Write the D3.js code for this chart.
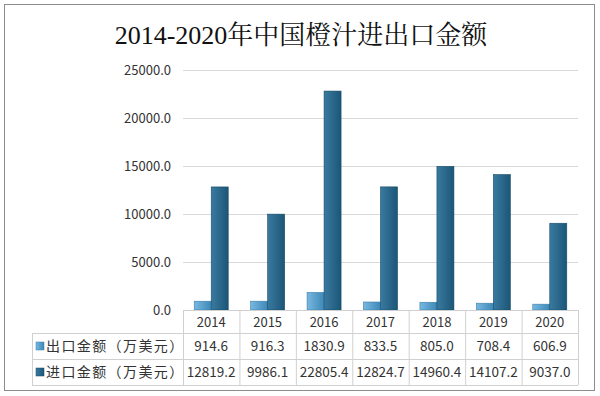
<!DOCTYPE html>
<html>
<head>
<meta charset="utf-8">
<script src="https://cdn.jsdelivr.net/npm/d3@7"></script>
<style>
  html, body { margin: 0; padding: 0; background: #fff; }
  svg { display: block; }
</style>
</head>
<body>
<div id="chart"></div>
<script>
const years = ['2014', '2015', '2016', '2017', '2018', '2019', '2020'];
const exportValues = [914.6, 916.3, 1830.9, 833.5, 805.0, 708.4, 606.9];
const importValues = [12819.2, 9986.1, 22805.4, 12824.7, 14960.4, 14107.2, 9037.0];
const seriesNames = ['出口金额（万美元）', '进口金额（万美元）'];
const yTicks = [0, 5000, 10000, 15000, 20000, 25000];
const title = '2014-2020年中国橙汁进出口金额';

const width = 600, height = 396;
const plot = { left: 183, right: 578, top: 70, bottom: 310 };
const rowH = [23, 26, 26];
const labelColLeft = 32;
const sansFont = '"Noto Sans CJK SC", "Noto Sans", sans-serif';

const svg = d3.select('#chart').append('svg')
  .attr('width', width)
  .attr('height', height);

// gradients for bars
const defs = svg.append('defs');
function gradient(id, c1, c2) {
  const g = defs.append('linearGradient').attr('id', id)
    .attr('x1', 0).attr('y1', 0).attr('x2', 1).attr('y2', 0);
  g.append('stop').attr('offset', '0%').attr('stop-color', c1);
  g.append('stop').attr('offset', '100%').attr('stop-color', c2);
}
gradient('gExport', '#78b8e0', '#3d88b8');
gradient('gImport', '#3a7aa0', '#1b5677');

// outer frame
svg.append('rect')
  .attr('x', 4.5).attr('y', 4.5)
  .attr('width', 590).attr('height', 386)
  .attr('fill', '#fff')
  .attr('stroke', '#8c8c8c')
  .attr('stroke-width', 1);

// title
svg.append('text')
  .attr('x', 301).attr('y', 44)
  .attr('text-anchor', 'middle')
  .attr('font-family', '"Liberation Serif", "Noto Serif CJK SC", "Noto Sans CJK SC", serif')
  .attr('font-size', 26)
  .attr('fill', '#111')
  .text(title);

const x = d3.scaleBand()
  .domain(years)
  .range([plot.left, plot.right]);

const y = d3.scaleLinear()
  .domain([0, 25000])
  .range([plot.bottom, plot.top]);

// gridlines
svg.append('g')
  .selectAll('line')
  .data(yTicks.slice(1))
  .join('line')
  .attr('x1', plot.left).attr('x2', plot.right)
  .attr('y1', d => y(d) + 0.5).attr('y2', d => y(d) + 0.5)
  .attr('stroke', '#d9d9d9');

// y axis labels
svg.append('g')
  .selectAll('text')
  .data(yTicks)
  .join('text')
  .attr('x', 171)
  .attr('y', d => y(d) + 5)
  .attr('text-anchor', 'end')
  .attr('font-family', sansFont)
  .attr('font-size', 13)
  .attr('fill', '#333')
  .text(d => d3.format('.1f')(d));

// bars
const barW = 17;
const bars = svg.append('g');
bars.selectAll('rect.exp')
  .data(exportValues)
  .join('rect')
  .attr('class', 'exp')
  .attr('x', (d, i) => x(years[i]) + x.bandwidth() / 2 - barW)
  .attr('y', d => y(d))
  .attr('width', barW)
  .attr('height', d => y(0) - y(d))
  .attr('fill', 'url(#gExport)')
  .attr('stroke', '#3a7fab')
  .attr('stroke-width', 0.6);

bars.selectAll('rect.imp')
  .data(importValues)
  .join('rect')
  .attr('class', 'imp')
  .attr('x', (d, i) => x(years[i]) + x.bandwidth() / 2)
  .attr('y', d => y(d))
  .attr('width', barW)
  .attr('height', d => y(0) - y(d))
  .attr('fill', 'url(#gImport)')
  .attr('stroke', '#174a66')
  .attr('stroke-width', 0.6);

// data table
const table = svg.append('g');
const rowTop = [plot.bottom, plot.bottom + rowH[0], plot.bottom + rowH[0] + rowH[1]];
const tableBottom = rowTop[2] + rowH[2];
const lineColor = '#d0d0d0';

// horizontal lines
table.append('line')
  .attr('x1', plot.left).attr('x2', plot.right)
  .attr('y1', rowTop[0] + 0.5).attr('y2', rowTop[0] + 0.5)
  .attr('stroke', lineColor);
[rowTop[1], rowTop[2], tableBottom].forEach(yy => {
  table.append('line')
    .attr('x1', labelColLeft).attr('x2', plot.right)
    .attr('y1', yy + 0.5).attr('y2', yy + 0.5)
    .attr('stroke', lineColor);
});
// vertical lines
years.concat(['end']).forEach((yr, i) => {
  const xx = i < years.length ? x(yr) : plot.right;
  table.append('line')
    .attr('x1', xx + 0.5).attr('x2', xx + 0.5)
    .attr('y1', rowTop[0]).attr('y2', tableBottom)
    .attr('stroke', lineColor);
});
table.append('line')
  .attr('x1', labelColLeft + 0.5).attr('x2', labelColLeft + 0.5)
  .attr('y1', rowTop[1]).attr('y2', tableBottom)
  .attr('stroke', lineColor);

// year labels
table.selectAll('text.yr')
  .data(years)
  .join('text')
  .attr('class', 'yr')
  .attr('x', d => x(d) + x.bandwidth() / 2)
  .attr('y', rowTop[0] + 17)
  .attr('text-anchor', 'middle')
  .attr('font-family', sansFont)
  .attr('font-size', 13)
  .attr('fill', '#333')
  .text(d => d);

[exportValues, importValues].forEach((vals, r) => {
  table.selectAll('text.v' + r)
    .data(vals)
    .join('text')
    .attr('class', 'v' + r)
    .attr('x', (d, i) => x(years[i]) + x.bandwidth() / 2)
    .attr('y', rowTop[r + 1] + 18)
    .attr('text-anchor', 'middle')
    .attr('font-family', sansFont)
    .attr('font-size', 13.5)
    .attr('fill', '#333')
    .text(d => d3.format('.1f')(d));

  // legend swatch + name
  table.append('rect')
    .attr('x', 36).attr('y', rowTop[r + 1] + 9)
    .attr('width', 8).attr('height', 8)
    .attr('fill', r === 0 ? 'url(#gExport)' : 'url(#gImport)')
    .attr('stroke', r === 0 ? '#3a7fab' : '#174a66')
    .attr('stroke-width', 0.5);
  table.append('text')
    .attr('x', 46)
    .attr('y', rowTop[r + 1] + 18)
    .attr('font-family', sansFont)
    .attr('font-size', 14)
    .attr('letter-spacing', 1.4)
    .attr('fill', '#333')
    .text(seriesNames[r]);
});
</script>
</body>
</html>
